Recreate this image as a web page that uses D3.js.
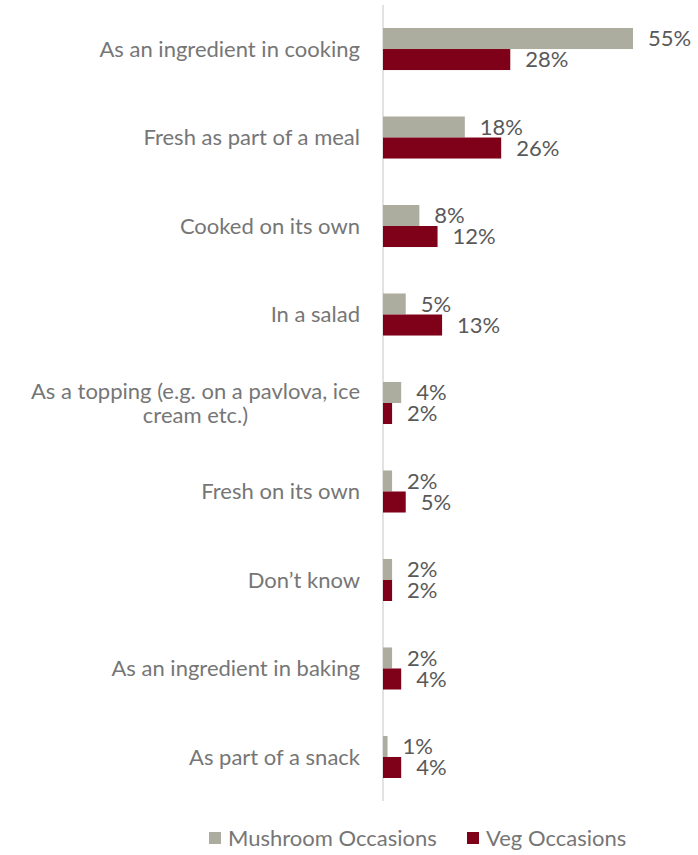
<!DOCTYPE html>
<html>
<head>
<meta charset="utf-8">
<script src="https://cdn.jsdelivr.net/npm/d3@7"></script>
<style>
  html, body { margin: 0; padding: 0; background: #fff; }
  svg { display: block; }
  text { font-family: Lato, "Open Sans", sans-serif; }
</style>
</head>
<body>
<svg id="chart" width="698" height="855"></svg>
<script>
// Usage occasions, share of respondents (%)
const categories = [
  "As an ingredient in cooking",
  "Fresh as part of a meal",
  "Cooked on its own",
  "In a salad",
  "As a topping (e.g. on a pavlova, ice|cream etc.)",
  "Fresh on its own",
  "Don\u2019t know",
  "As an ingredient in baking",
  "As part of a snack"
];
const seriesNames = ["Mushroom Occasions", "Veg Occasions"];
const mushroomValues = [55, 18, 8, 5, 4, 2, 2, 2, 1];
const vegValues = [28, 26, 12, 13, 2, 5, 2, 4, 4];
const seriesColors = ["#adad9f", "#7f0019"];

const rows = categories.map((c, i) => ({ cat: c, values: [mushroomValues[i], vegValues[i]] }));

const svg = d3.select("#chart");
const axisX = 383;
const fontSize = 22;

const y = d3.scaleBand()
  .domain(categories)
  .range([5, 801])
  .paddingInner(0.525)
  .paddingOuter(0.26);

const ySub = d3.scaleBand()
  .domain(seriesNames)
  .range([0, y.bandwidth()]);

const x = d3.scaleLinear().domain([0, 55]).range([axisX, 633]);

// vertical category axis line
svg.append("line")
  .attr("x1", axisX).attr("x2", axisX)
  .attr("y1", y.range()[0]).attr("y2", y.range()[1])
  .attr("stroke", "#d9d9d9").attr("stroke-width", 1.5);

const groups = svg.selectAll("g.cat")
  .data(rows)
  .join("g")
  .attr("class", "cat")
  .attr("transform", d => `translate(0,${y(d.cat)})`);

// bars
groups.selectAll("rect")
  .data(d => d.values.map((v, i) => ({ v, i })))
  .join("rect")
  .attr("x", x(0))
  .attr("y", d => ySub(seriesNames[d.i]))
  .attr("width", d => x(d.v) - x(0))
  .attr("height", ySub.bandwidth())
  .attr("fill", d => seriesColors[d.i]);

// value labels
groups.selectAll("text.val")
  .data(d => d.values.map((v, i) => ({ v, i })))
  .join("text")
  .attr("class", "val")
  .attr("x", d => x(d.v) + 15)
  .attr("y", d => ySub(seriesNames[d.i]) + ySub.bandwidth() / 2)
  .attr("dy", "0.35em")
  .attr("font-size", fontSize)
  .attr("fill", "#595959")
  .text(d => d.v + "%");

// category labels (multi-line labels are centred within their block)
groups.each(function(d) {
  const lines = d.cat.split("|");
  const g = d3.select(this);
  const lineH = 24;
  const cy = y.bandwidth() / 2;
  const t = g.append("text")
    .attr("font-size", fontSize)
    .attr("fill", "#767676");
  lines.forEach((ln, k) => {
    t.append("tspan")
      .attr("y", cy + (k - (lines.length - 1) / 2) * lineH)
      .attr("dy", "0.35em")
      .text(ln);
  });
  const right = 360;
  if (lines.length === 1) {
    t.attr("text-anchor", "end").selectAll("tspan").attr("x", right);
  } else {
    const widths = [];
    t.selectAll("tspan").each(function() { widths.push(this.getComputedTextLength()); });
    const maxW = d3.max(widths);
    t.attr("text-anchor", "middle").selectAll("tspan").attr("x", right - maxW / 2);
  }
});

// legend
const legend = svg.append("g").attr("transform", "translate(0,838)");
const legendX = [209, 467];
seriesNames.forEach((name, i) => {
  legend.append("rect")
    .attr("x", legendX[i]).attr("y", -6)
    .attr("width", 12).attr("height", 12)
    .attr("fill", seriesColors[i]);
  legend.append("text")
    .attr("x", legendX[i] + 19).attr("y", 0)
    .attr("dy", "0.35em")
    .attr("font-size", fontSize)
    .attr("fill", "#767676")
    .text(name);
});
</script>
</body>
</html>
